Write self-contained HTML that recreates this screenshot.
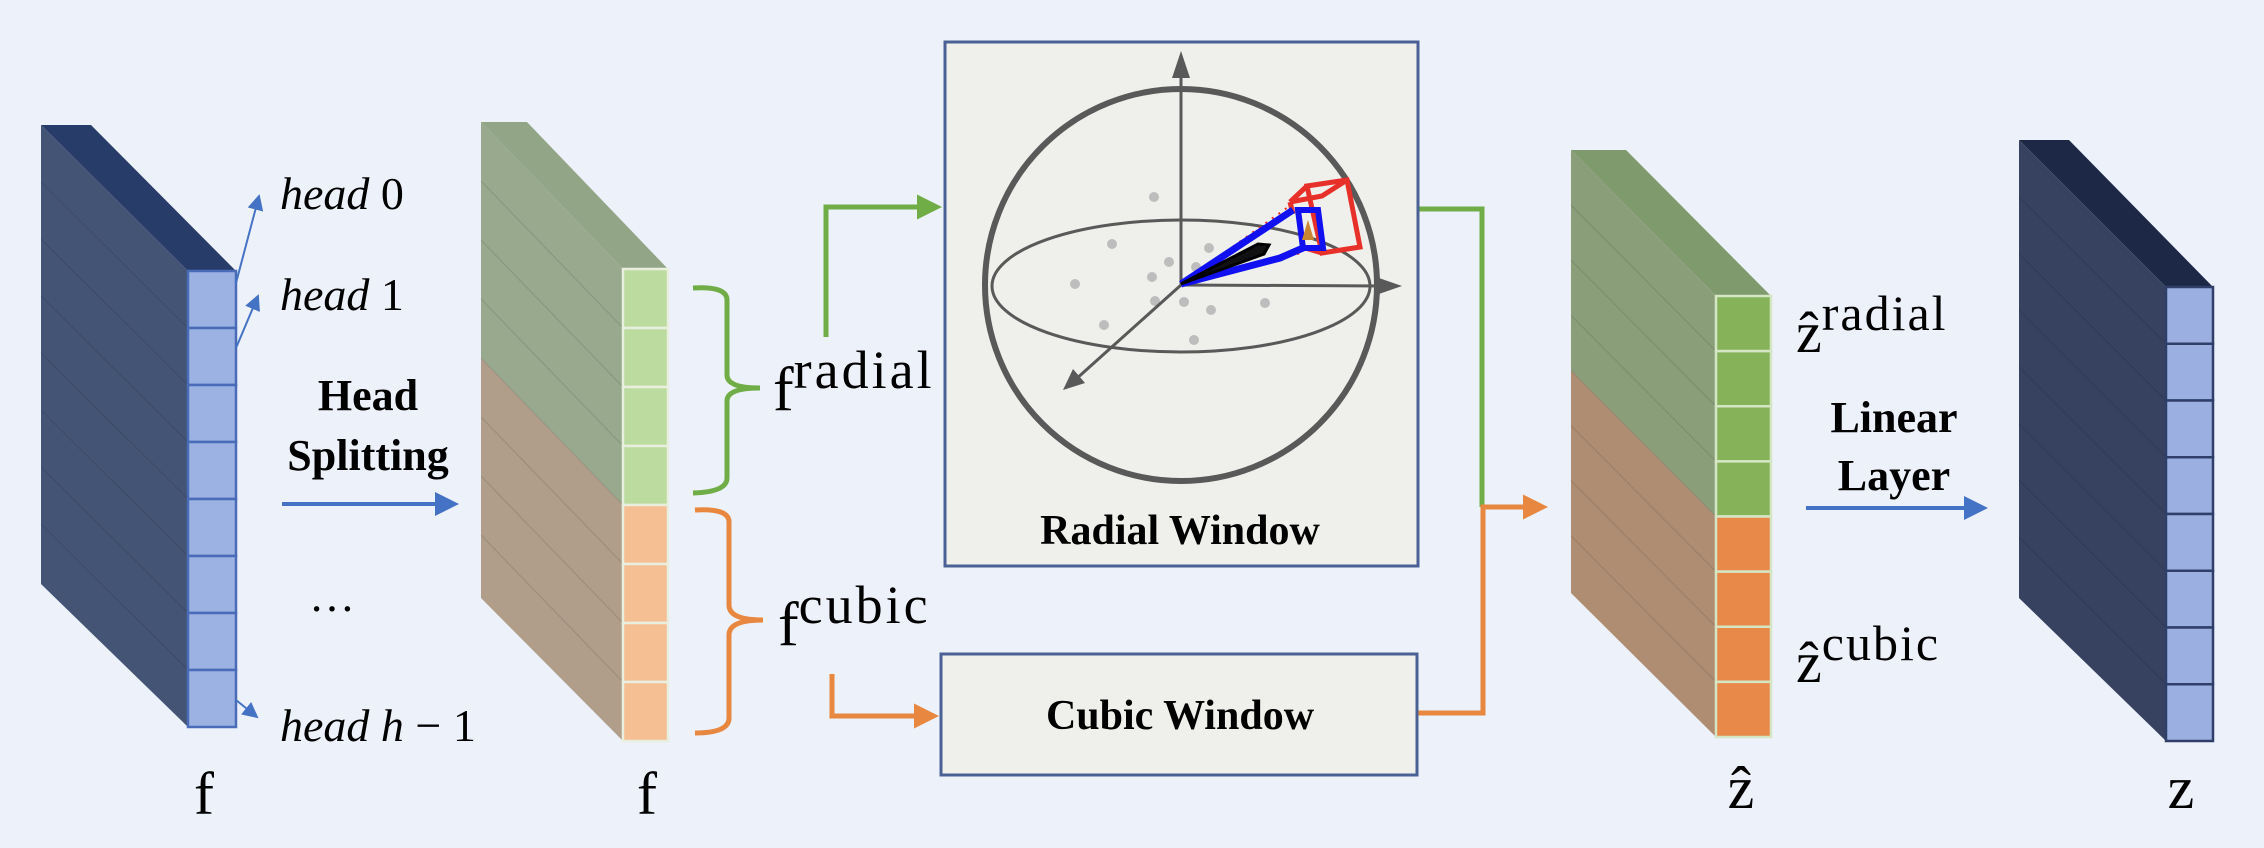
<!DOCTYPE html>
<html><head><meta charset="utf-8"><style>
html,body{margin:0;padding:0;background:#edf1f9;}
svg{display:block;}
.serif{font-family:"Liberation Serif","DejaVu Serif",serif;}
</style></head><body>
<svg id="fig" width="2264" height="848" viewBox="0 0 2264 848" xmlns="http://www.w3.org/2000/svg">
<rect x="0" y="0" width="2264" height="848" fill="#edf1f9"/>
<defs>
<marker id="ab" markerWidth="6" markerHeight="6" refX="5" refY="3" orient="auto" markerUnits="strokeWidth"><path d="M0,0 L6,3 L0,6 z" fill="#4472c4"/></marker>
<marker id="abs" markerWidth="8" markerHeight="8" refX="7" refY="4" orient="auto" markerUnits="strokeWidth"><path d="M0,0 L8,4 L0,8 z" fill="#4472c4"/></marker>
<marker id="ag" markerWidth="5" markerHeight="5" refX="4" refY="2.5" orient="auto" markerUnits="strokeWidth"><path d="M0,0 L5,2.5 L0,5 z" fill="#70ad47"/></marker>
<marker id="ao" markerWidth="5" markerHeight="5" refX="4" refY="2.5" orient="auto" markerUnits="strokeWidth"><path d="M0,0 L5,2.5 L0,5 z" fill="#e8873f"/></marker>
</defs>
<g id="blocks"></g>

<g class="serif" font-size="46" fill="#000">
<text x="280" y="209"><tspan font-style="italic">head</tspan> 0</text>
<text x="280" y="310"><tspan font-style="italic">head</tspan> 1</text>
<text x="280" y="741"><tspan font-style="italic">head h</tspan>  −  1</text>
<text x="332" y="611" text-anchor="middle">…</text>
</g>
<line x1="236" y1="283" x2="259" y2="196" stroke="#4472c4" stroke-width="2" marker-end="url(#abs)"/>
<line x1="236" y1="348" x2="258" y2="296" stroke="#4472c4" stroke-width="2" marker-end="url(#abs)"/>
<line x1="236" y1="700" x2="257" y2="717" stroke="#4472c4" stroke-width="2" marker-end="url(#abs)"/>

<g class="serif" font-weight="bold" font-size="44" text-anchor="middle">
<text x="368" y="410">Head</text>
<text x="368" y="470">Splitting</text>
<text x="1894" y="432">Linear</text>
<text x="1894" y="490">Layer</text>
</g>
<line x1="282" y1="504" x2="455" y2="504" stroke="#4472c4" stroke-width="4" marker-end="url(#ab)"/>
<line x1="1806" y1="508" x2="1984" y2="508" stroke="#4472c4" stroke-width="4" marker-end="url(#ab)"/>

<path d="M693,288 Q727,286 727,300 L727,375 Q727,388 760,388 Q727,388 727,401 L727,478 Q727,492 693,493" fill="none" stroke="#70ad47" stroke-width="5"/>
<path d="M695,510 Q729,508 729,522 L729,605 Q729,620 763,620 Q729,620 729,635 L729,718 Q729,733 695,733" fill="none" stroke="#e8873f" stroke-width="5"/>

<g class="serif" fill="#000">
<text x="773" y="410" font-size="62">f<tspan font-size="54" dy="-22" letter-spacing="3">radial</tspan></text>
<text x="778" y="645" font-size="62">f<tspan font-size="54" dy="-22" letter-spacing="3">cubic</tspan></text>
<text x="1796" y="352" font-size="58">ẑ<tspan font-size="50" dy="-22" letter-spacing="2">radial</tspan></text>
<text x="1796" y="682" font-size="58">ẑ<tspan font-size="50" dy="-22" letter-spacing="2">cubic</tspan></text>
<text x="204" y="814" font-size="60" text-anchor="middle">f</text>
<text x="647" y="814" font-size="60" text-anchor="middle">f</text>
<text x="1741" y="808" font-size="60" text-anchor="middle">ẑ</text>
<text x="2181" y="808" font-size="60" text-anchor="middle">z</text>
</g>

<polyline points="826,337 826,207 937,207" fill="none" stroke="#70ad47" stroke-width="5" marker-end="url(#ag)"/>
<polyline points="832,674 832,716 934,716" fill="none" stroke="#e8873f" stroke-width="5" marker-end="url(#ao)"/>
<polyline points="1418,209 1482,209 1482,507" fill="none" stroke="#70ad47" stroke-width="5"/>
<polyline points="1418,713 1483,713 1483,507 1543,507" fill="none" stroke="#e8873f" stroke-width="5" marker-end="url(#ao)"/>

<g>
<rect x="945" y="42" width="473" height="524" fill="#efefeb" stroke="#4a6195" stroke-width="3"/>
<g fill="#bdbdbd">
<circle cx="1154" cy="197" r="5"/><circle cx="1112" cy="244" r="5"/><circle cx="1209" cy="248" r="5"/><circle cx="1169" cy="262" r="5"/><circle cx="1196" cy="267" r="5"/><circle cx="1152" cy="277" r="5"/><circle cx="1075" cy="284" r="5"/><circle cx="1155" cy="301" r="5"/><circle cx="1184" cy="302" r="5"/><circle cx="1211" cy="310" r="5"/><circle cx="1265" cy="303" r="5"/><circle cx="1104" cy="325" r="5"/><circle cx="1194" cy="340" r="5"/>
</g>
<ellipse cx="1181" cy="286" rx="189" ry="66" fill="none" stroke="#595959" stroke-width="3"/>
<circle cx="1181" cy="285" r="196" fill="none" stroke="#595959" stroke-width="6"/>
<line x1="1181" y1="285" x2="1181" y2="70" stroke="#595959" stroke-width="3"/>
<path d="M1181,51 L1172,78 L1190,78 z" fill="#595959"/>
<line x1="1181" y1="285" x2="1385" y2="286" stroke="#595959" stroke-width="3"/>
<path d="M1402,286 L1376,277 L1376,295 z" fill="#595959"/>
<line x1="1181" y1="285" x2="1075" y2="380" stroke="#595959" stroke-width="3"/>
<path d="M1063,390 L1073,369 L1085,383 z" fill="#595959"/>
<g>
<path d="M1181,284 L1295,202 M1181,284 L1305,252" stroke="#e8302a" stroke-width="2" stroke-dasharray="2,6" fill="none"/>
<polygon points="1307,186 1347,180 1360,247 1322,253" fill="none" stroke="#e8302a" stroke-width="5"/>
<path d="M1290,202 L1307,186 M1290,202 L1322,196 L1347,180 M1302,247 L1322,253" stroke="#e8302a" stroke-width="5" fill="none"/>
<line x1="1290" y1="202" x2="1293" y2="214" stroke="#e8302a" stroke-width="5"/>
<path d="M1181,284 L1293,210 M1181,284 L1280,258 L1303,248" stroke="#1010f0" stroke-width="7" fill="none"/>
<polygon points="1298,210 1318,210 1323,248 1303,248" fill="none" stroke="#1010f0" stroke-width="6"/>
<polygon points="1308,220 1314,240 1302,240" fill="#c98530"/>
<polygon points="1181,284 1258,244 1269,245 1264,254" fill="#111" stroke="#000" stroke-width="3"/>
</g>
<text x="1180" y="544" class="serif" font-weight="bold" font-size="42" text-anchor="middle">Radial Window</text>
</g>

<g>
<rect x="941" y="654" width="476" height="121" fill="#efefeb" stroke="#4a6195" stroke-width="3"/>
<text x="1180" y="729" class="serif" font-weight="bold" font-size="42" text-anchor="middle">Cubic Window</text>
</g>
</svg>
<script>
const NS='http://www.w3.org/2000/svg';
const g=document.getElementById('blocks');
function mk(tag,attrs){const e=document.createElementNS(NS,tag);for(const k in attrs)e.setAttribute(k,attrs[k]);g.appendChild(e);return e;}
const blocks=[
 {name:'input-feature',L:41,T:125,TR:91,c1:188,c2:236,top:271,bot:727,lbot:584,face:'#435475',topc:'#283c6a',cells:['#9cb2e2'],split:8,border:'#4a6bb8'},
 {name:'split-feature',L:481,T:122,TR:527,c1:623,c2:668,top:269,bot:741,lbot:598,face:'#98a98e',face2:'#b09d8a',topc:'#92a586',cells:['#bcdb9e','#f5be93'],split:4,border:'#e9efdf'},
 {name:'window-output',L:1571,T:150,TR:1626,c1:1716,c2:1771,top:296,bot:737,lbot:593,face:'#8b9e7a',face2:'#ae8d73',topc:'#7f9a6d',cells:['#86b35a','#e8894a'],split:4,border:'#d5e6c5'},
 {name:'final-output',L:2019,T:140,TR:2069,c1:2166,c2:2213,top:287,bot:741,lbot:598,face:'#374260',topc:'#1c2846',cells:['#9bb0e0'],split:8,border:'#2f3f6a'}
];
blocks.forEach(b=>{
  const h=(b.bot-b.top)/8, dy=b.top-b.T;
  const t=mk('polygon',{points:`${b.L},${b.T} ${b.TR},${b.T} ${b.c2},${b.top} ${b.c1},${b.top}`,fill:b.topc});
  
  
  if(b.face2){
    const sy=b.top+h*b.split, ly=sy-dy;
    const a=mk('polygon',{points:`${b.L},${b.T} ${b.c1},${b.top} ${b.c1},${sy} ${b.L},${ly}`,fill:b.face});
    
    
    const c=mk('polygon',{points:`${b.L},${ly} ${b.c1},${sy} ${b.c1},${b.bot} ${b.L},${b.lbot}`,fill:b.face2});
    
    
  } else {
    const a=mk('polygon',{points:`${b.L},${b.T} ${b.c1},${b.top} ${b.c1},${b.bot} ${b.L},${b.lbot}`,fill:b.face});
    
    
  }
  for(let i=1;i<8;i++){
    const y=b.top+h*i;
    const ln=mk('line',{x1:b.c1,y1:y,x2:b.L,y2:y-dy,stroke:'rgba(0,0,0,0.10)','stroke-width':1.2});
    
    
  }
  for(let i=0;i<8;i++){
    const col=b.cells.length>1&&i>=b.split?b.cells[1]:b.cells[0];
    const r=mk('rect',{x:b.c1,y:b.top+h*i,width:b.c2-b.c1,height:h,fill:col,stroke:b.border,'stroke-width':2.5});
    
    
  }
});
</script>
</body></html>
